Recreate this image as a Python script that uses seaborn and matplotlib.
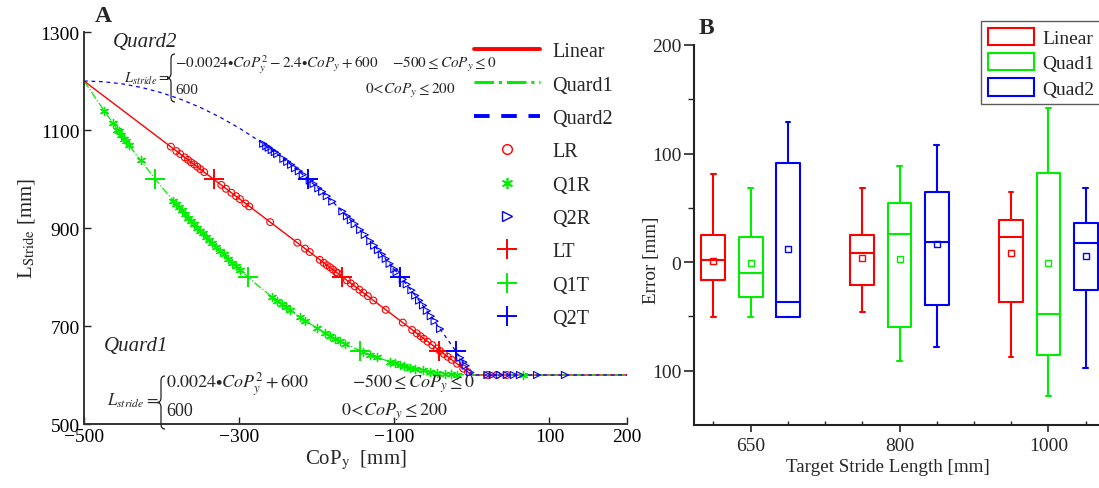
import numpy as np
import pandas as pd
import matplotlib
matplotlib.use("Agg")
import matplotlib.pyplot as plt
from matplotlib.lines import Line2D
from matplotlib.patches import Patch, PathPatch
from matplotlib.path import Path
import seaborn as sns

# ---------------- data: panel A ----------------
curve_x = [-500, -475, -450, -425, -400, -375, -350, -325, -300, -275, -250,
           -225, -200, -175, -150, -125, -100, -75, -50, -25, 0, 200]
linear_y = [1200, 1170, 1140, 1110, 1080, 1050, 1020, 990, 960, 930, 900,
            870, 840, 810, 780, 750, 720, 690, 660, 630, 600, 600]
quad1_y = [1200, 1141.5, 1086, 1033.5, 984, 937.5, 894, 853.5, 816, 781.5, 750,
           721.5, 696, 673.5, 654, 637.5, 624, 613.5, 606, 601.5, 600, 600]
quad2_y = [1200, 1198.5, 1194, 1186.5, 1176, 1162.5, 1146, 1126.5, 1104, 1078.5, 1050,
           1018.5, 984, 946.5, 906, 862.5, 816, 766.5, 714, 658.5, 600, 600]

lr_x = [-388, -381, -376, -370, -366, -362, -358, -354, -350, -345,
        -323, -317, -310, -304, -299, -292, -287, -260, -225, -215, -209,
        -196, -191, -187, -183, -179, -175, -173, -161, -156, -151, -145, -140, -134, -127,
        -111, -89, -77, -71, -66, -62, -57, -51, -45, -41, -36, -31, -26, -19, -11, -5,
        20, 32, 45]
lr_y = [1066, 1057, 1051, 1044, 1039, 1034, 1030, 1025, 1020, 1014,
        988, 980, 972, 965, 959, 950, 944, 912, 870, 858, 851,
        835, 829, 824, 820, 815, 810, 808, 793, 787, 781, 774, 768, 761, 752,
        733, 707, 692, 685, 679, 674, 668, 661, 654, 649, 643, 637, 631, 623, 613, 606,
        600, 600, 600]

q1r_x = [-474, -463, -457, -455, -452, -448, -446, -442, -427, -385, -381, -378, -374,
         -370, -366, -362, -358, -354, -350, -347, -343, -339, -335, -330, -325, -320,
         -314, -309, -304, -299, -258, -251, -245, -240, -235, -222, -215, -200, -189,
         -183, -176, -170, -163, -140, -131, -122, -106, -99, -93, -87, -80, -73, -63,
         -54, -45, -35, -27, -19, 66]
q1r_y = [1139, 1115, 1101, 1097, 1090, 1082, 1077, 1069, 1038, 956, 948, 943, 936,
         929, 921, 915, 908, 901, 894, 889, 882, 876, 869, 861, 853, 846,
         837, 829, 822, 815, 760, 751, 744, 738, 733, 718, 711, 696, 686,
         680, 674, 669, 664, 647, 641, 636, 627, 624, 621, 618, 615, 613, 610,
         607, 605, 603, 602, 601, 600]

q2r_x = [-269, -265, -262, -258, -254, -251, -243, -238, -233, -228, -223, -218, -209,
         -204, -198, -193, -187, -180, -167, -161, -156, -151, -144, -138, -131, -126,
         -121, -116, -111, -106, -100, -97, -89, -84, -78, -73, -68, -63, -58, -53, -48,
         -41, -15, -11, -8, -2, 20, 27, 36, 45, 54, 62, 84, 120]
q2r_y = [1072, 1067, 1064, 1059, 1055, 1051, 1041, 1035, 1029, 1022, 1016, 1009, 997,
         990, 981, 974, 965, 954, 934, 924, 916, 908, 896, 886, 873, 864,
         855, 846, 837, 827, 816, 810, 795, 785, 773, 762, 752, 742, 731, 720, 710,
         694, 635, 626, 619, 605, 600, 600, 600, 600, 600, 600, 600, 600]

lt_x = [-333, -167, -42]
q1t_x = [-408, -289, -144]
q2t_x = [-211, -92, -21]
target_y = [1000, 800, 650]

# ---------------- data: panel B ----------------
targets = ["650", "800", "1000"]
methods = ["Linear", "Quad1", "Quad2"]
whishi = {"Linear": [81, 68.5, 64.8], "Quad1": [68.5, 88.8, 141.9], "Quad2": [128.7, 107.8, 67.9]}
q3 = {"Linear": [24.6, 24.6, 39.0], "Quad1": [22.7, 54.7, 81.7], "Quad2": [91.5, 64.8, 35.6]}
med = {"Linear": [1.8, 8.6, 22.7], "Quad1": [-10.1, 25.8, -48.2], "Quad2": [-36.3, 18.7, 17.8]}
q1 = {"Linear": [-16.3, -21.2, -36.6], "Quad1": [-32.3, -59.3, -85.4], "Quad2": [-50.4, -39.3, -25.2]}
whislo = {"Linear": [-50.4, -45.5, -87.6], "Quad1": [-50.4, -91.2, -123.2], "Quad2": [-50.4, -78.3, -97.4]}
means = {"Linear": [1.2, 3.7, 8.0], "Quad1": [-1.2, 3.1, -0.9], "Quad2": [12.3, 16.3, 5.8]}
b_yticks = [-100, 0, 100, 200]
b_yticklabels = ["100", "0", "100", "200"]

# ---------------- style ----------------
sns.set_style("ticks")
plt.rcParams["font.family"] = ["Liberation Serif", "DejaVu Serif"]
plt.rcParams["mathtext.fontset"] = "stix"

RED = "#ff0000"
GREEN = "#00ee00"
BLUE = "#0000ff"

W, H = 1099, 489
fig = plt.figure(figsize=(W / 100, H / 100), dpi=100)
axA = fig.add_axes([84 / W, 1 - 425 / H, 543 / W, 392 / H])
axB = fig.add_axes([694 / W, 1 - 426 / H, 411 / W, 380 / H])

# ---------------- panel A ----------------
sns.lineplot(x=curve_x, y=linear_y, ax=axA, color=RED, lw=1.0, sort=False, zorder=2)
sns.lineplot(x=curve_x, y=quad1_y, ax=axA, color=GREEN, lw=0.9, ls="-.", sort=False, zorder=2)
sns.lineplot(x=curve_x, y=quad2_y, ax=axA, color=BLUE, lw=0.9, ls=(0, (3, 3)), sort=False, zorder=2)

axA.scatter(lr_x, lr_y, marker="o", s=24, facecolors="none", edgecolors=RED, linewidths=0.8, zorder=3)
axA.scatter(q1r_x, q1r_y, marker=(6, 2, 0), s=34, color=GREEN, linewidths=1.0, zorder=3)
axA.scatter(q2r_x, q2r_y, marker=">", s=26, facecolors="none", edgecolors=BLUE, linewidths=0.8, zorder=3)

for xs, c in [(lt_x, RED), (q1t_x, GREEN), (q2t_x, BLUE)]:
    axA.plot(xs, target_y, ls="none", marker="+", ms=15, mew=1.4, color=c, zorder=4)

axA.set_xlim(-500, 200)
axA.set_ylim(500, 1300)
axA.set_xticks([-500, -300, -100, 100, 200])
axA.set_yticks([500, 700, 900, 1100, 1300])
axA.tick_params(direction="in", length=5, width=1, labelsize=14, pad=3, colors="#222222",
                labelcolor="black")
for s in ["top", "right"]:
    axA.spines[s].set_visible(False)
for s in ["left", "bottom"]:
    axA.spines[s].set_linewidth(1.4)
    axA.spines[s].set_color("#333333")
axA.set_xlabel(r"CoP$_{\mathrm{y}}$  [mm]", fontsize=15, labelpad=2)
axA.set_ylabel(r"L$_{\mathrm{Stride}}$ [mm]", fontsize=15, labelpad=3)

handlesA = [
    Line2D([], [], color=RED, lw=2.8, ls="-"),
    Line2D([], [], color=GREEN, lw=2.2, ls="-."),
    Line2D([], [], color=BLUE, lw=2.8, ls=(0, (4, 3))),
    Line2D([], [], ls="none", marker="o", ms=7, mfc="none", mec=RED, mew=1.0),
    Line2D([], [], ls="none", marker=(6, 2, 0), ms=8, color=GREEN, mew=1.2),
    Line2D([], [], ls="none", marker=">", ms=7, mfc="none", mec=BLUE, mew=1.0),
    Line2D([], [], ls="none", marker="+", ms=15, color=RED, mew=1.4),
    Line2D([], [], ls="none", marker="+", ms=15, color=GREEN, mew=1.4),
    Line2D([], [], ls="none", marker="+", ms=15, color=BLUE, mew=1.4),
]
labelsA = ["Linear", "Quard1", "Quard2", "LR", "Q1R", "Q2R", "LT", "Q1T", "Q2T"]
fig.legend(handlesA, labelsA, loc="upper left", bbox_to_anchor=(470 / W, 1 - 39 / H),
           frameon=False, fontsize=14.5, handlelength=3.3, handletextpad=0.6,
           labelspacing=0.71, borderaxespad=0, borderpad=0.2)

# formulas
def ftext(px, py, s, size=12, **kw):
    fig.text(px / W, 1 - py / H, s, fontsize=size, va="center", ha="left", **kw)


def brace(xl, xr, yt, yb, lw=0.9):
    xc = (xl + xr) / 2.0
    ym = (yt + yb) / 2.0
    r = (xr - xl) * 0.6
    pts = [(xr, yt), (xc, yt), (xc, yt + r),
           (xc, ym - r), (xc, ym), (xl, ym),
           (xc, ym), (xc, ym + r),
           (xc, yb - r), (xc, yb), (xr, yb)]
    codes = [Path.MOVETO, Path.CURVE3, Path.CURVE3,
             Path.LINETO, Path.CURVE3, Path.CURVE3,
             Path.CURVE3, Path.CURVE3,
             Path.LINETO, Path.CURVE3, Path.CURVE3]
    verts = [(x / W, 1 - y / H) for x, y in pts]
    fig.add_artist(PathPatch(Path(verts, codes), transform=fig.transFigure,
                             facecolor="none", edgecolor="#222222", lw=lw))


ftext(113, 43, "Quard2", size=15, style="italic")
ftext(124, 79, r"$L_{stride}=$", size=10.5)
brace(167, 175, 55, 103)
ftext(175, 65, r"$-0.0024{\bullet}CoP_y^2-2.4{\bullet}CoP_y+600$", size=11)
ftext(392, 65, r"$-500\leq CoP_y\leq 0$", size=11)
ftext(175, 91, "600", size=11)
ftext(365, 91, r"$0\!<\!CoP_y\leq 200$", size=11)

ftext(104, 347, "Quard1", size=15, style="italic")
ftext(107, 401, r"$L_{stride}=$", size=12)
brace(157, 165, 377, 430)
ftext(166, 384, r"$0.0024{\bullet}CoP_y^2+600$", size=13)
ftext(352, 384, r"$-500\leq CoP_y\leq 0$", size=13)
ftext(166, 412, "600", size=13)
ftext(341, 412, r"$0\!<\!CoP_y\leq 200$", size=13)

fig.text(95 / W, 1 - 17 / H, "A", fontsize=17, fontweight="bold", va="center", ha="left")
fig.text(699 / W, 1 - 28 / H, "B", fontsize=17, fontweight="bold", va="center", ha="left")

# ---------------- panel B ----------------
colors = {"Linear": RED, "Quad1": GREEN, "Quad2": BLUE}
offsets = {"Linear": -0.25, "Quad1": 0.0, "Quad2": 0.25}
for m in methods:
    stats = []
    for i, t in enumerate(targets):
        stats.append(dict(label=t, whislo=whislo[m][i], q1=q1[m][i], med=med[m][i],
                          q3=q3[m][i], whishi=whishi[m][i], mean=means[m][i], fliers=[]))
    pos = [i + offsets[m] for i in range(len(targets))]
    c = colors[m]
    axB.bxp(stats, positions=pos, widths=0.16, capwidths=0.03, showmeans=True,
            showfliers=False, manage_ticks=False,
            boxprops=dict(color=c, lw=1.5), whiskerprops=dict(color=c, lw=1.5),
            capprops=dict(color=c, lw=1.5), medianprops=dict(color=c, lw=1.5),
            meanprops=dict(marker="s", ms=4, mfc="none", mec=c, mew=1.0))

axB.set_xlim(-0.38, 2.38)
axB.set_ylim(-150, 200)
axB.set_xticks([0, 1, 2])
axB.set_xticklabels(targets)
axB.set_xticks([-0.25, 0.25, 0.5, 0.75, 1.25, 1.5, 1.75, 2.25], minor=True)
axB.set_yticks(b_yticks)
axB.set_yticklabels(b_yticklabels)
axB.set_yticks([-50, 50, 150], minor=True)
axB.tick_params(axis="x", which="major", direction="out", length=5, width=1.2, labelsize=14, pad=4)
axB.tick_params(axis="x", which="minor", direction="in", length=3, width=1)
axB.tick_params(axis="y", which="major", direction="out", length=7, width=1.2, labelsize=14, pad=2)
axB.tick_params(axis="y", which="minor", direction="out", length=4, width=1)
for s in ["top", "right"]:
    axB.spines[s].set_visible(False)
for s in ["left", "bottom"]:
    axB.spines[s].set_linewidth(1.5)
    axB.spines[s].set_color("#222222")
axB.set_xlabel("Target Stride Length [mm]", fontsize=13.7)
axB.set_ylabel("Error [mm]", fontsize=13.8)
axB.xaxis.set_label_coords((888 - 694) / 411, -(459 - 426) / 380)
axB.yaxis.set_label_coords((660 - 694) / 411, (426 - 260) / 380)

handlesB = [Patch(facecolor="none", edgecolor=colors[m], lw=1.5) for m in methods]
fig.legend(handlesB, methods, loc="upper left", bbox_to_anchor=(981 / W, 1 - 22 / H),
           fontsize=14, frameon=True, fancybox=False, edgecolor="#333333",
           handlelength=2.4, handleheight=1.0, handletextpad=0.4, labelspacing=0.3,
           borderaxespad=0, borderpad=0.35)

fig.savefig("out.png", dpi=100)
